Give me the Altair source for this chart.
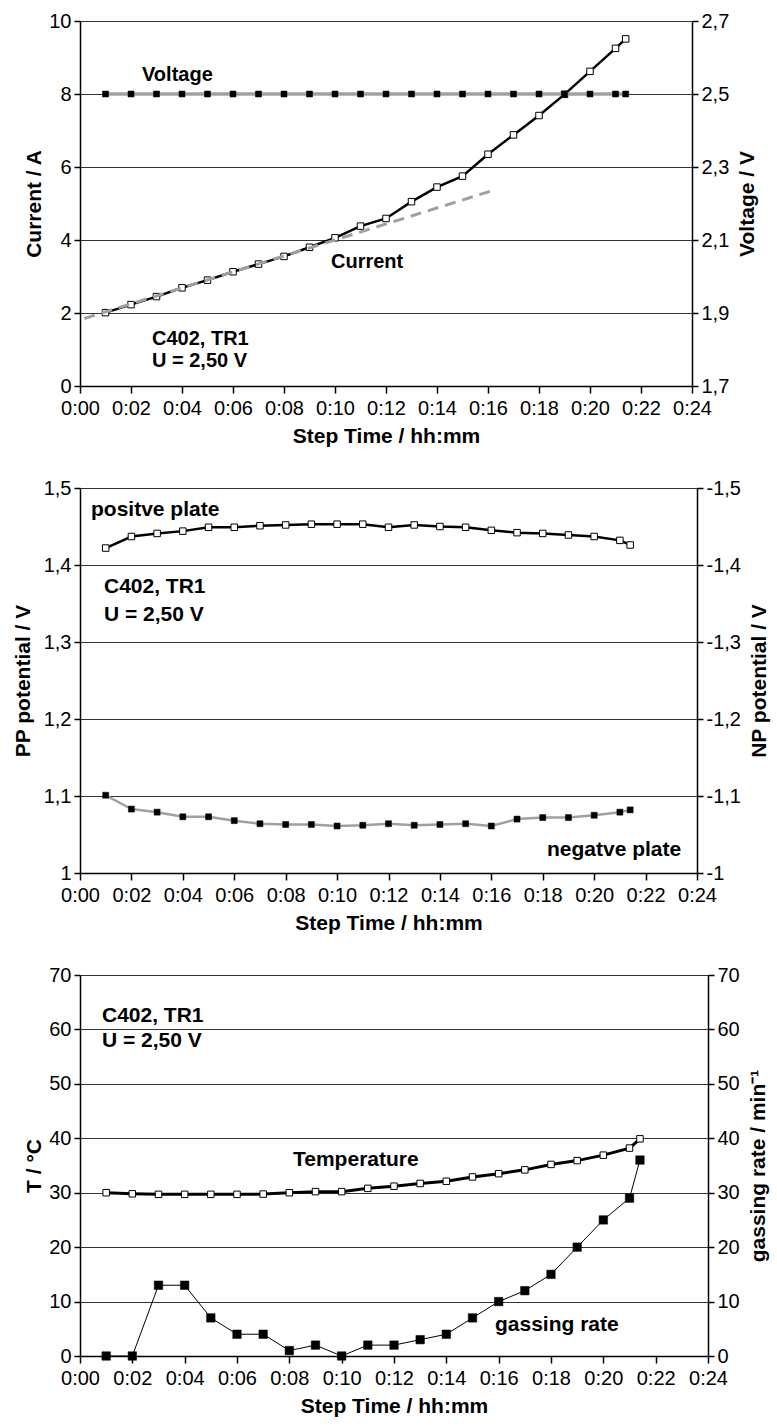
import altair as alt
import pandas as pd

FONT = "Liberation Sans"

# ---------------- data ----------------
minutes = [1, 2, 3, 4, 5, 6, 7, 8, 9, 10, 11, 12, 13, 14, 15, 16, 17, 18, 19, 20, 21, 21.4]
x_ticks = [0, 2, 4, 6, 8, 10, 12, 14, 16, 18, 20, 22, 24]

# panel 1: current and voltage
current_a = [2.01, 2.23, 2.45, 2.69, 2.90, 3.13, 3.34, 3.55, 3.80, 4.06, 4.38,
             4.59, 5.05, 5.45, 5.75, 6.35, 6.88, 7.41, 7.99, 8.62, 9.25, 9.51]
voltage_v = [2.5, 2.5, 2.5, 2.5, 2.5, 2.5, 2.5, 2.5, 2.5, 2.5, 2.5,
             2.5, 2.5, 2.5, 2.5, 2.5, 2.5, 2.5, 2.5, 2.5, 2.5, 2.5]
trend_minutes = [0.17, 16.25]
trend_current = [1.85, 5.37]
current_ticks = [0, 2, 4, 6, 8, 10]
voltage_ticks = [1.7, 1.9, 2.1, 2.3, 2.5, 2.7]

# panel 2: plate potentials
pp_v = [1.422, 1.437, 1.441, 1.444, 1.449, 1.449, 1.451, 1.452, 1.453, 1.453, 1.453,
        1.449, 1.452, 1.450, 1.449, 1.445, 1.442, 1.441, 1.439, 1.437, 1.432, 1.426]
np_v = [-1.101, -1.083, -1.079, -1.073, -1.073, -1.068, -1.064, -1.063, -1.063, -1.061, -1.062,
        -1.064, -1.062, -1.063, -1.064, -1.061, -1.070, -1.072, -1.072, -1.075, -1.079, -1.082]
pp_ticks = [1.0, 1.1, 1.2, 1.3, 1.4, 1.5]
np_ticks = [-1.5, -1.4, -1.3, -1.2, -1.1, -1.0]

# panel 3: temperature and gassing rate
temp_c = [30.0, 29.8, 29.7, 29.7, 29.7, 29.7, 29.75, 30.0, 30.2, 30.2, 30.8,
          31.2, 31.7, 32.1, 32.9, 33.5, 34.2, 35.2, 35.9, 36.9, 38.2, 39.9]
gas_rate = [0, 0, 13, 13, 7, 4, 4, 1, 2, 0, 2, 2, 3, 4, 7, 10, 12, 15, 20, 25, 29, 36]
t_ticks = [0, 10, 20, 30, 40, 50, 60, 70]

df1 = pd.DataFrame({"t": minutes, "current": current_a, "voltage": voltage_v})
df_tr = pd.DataFrame({"t": trend_minutes, "current": trend_current})
df2 = pd.DataFrame({"t": minutes, "pp": pp_v, "np": np_v})
df3 = pd.DataFrame({"t": minutes, "temp": temp_c, "gas": gas_rate})

# ---------------- helpers ----------------
COMMA = "replace('' + datum.value, '.', ',')"
COMMA1 = "replace(format(datum.value, '.1f'), '.', ',')"


def x_enc():
    return alt.X(
        "t:Q",
        scale=alt.Scale(domain=[0, 24], nice=False, zero=False),
        axis=alt.Axis(values=x_ticks, title="Step Time / hh:mm",
                      labelExpr="'0:' + (datum.value < 10 ? '0' : '') + datum.value",
                      grid=False, labelFlush=False, labelOverlap=False,
                      tickSize=7, labelPadding=5, titlePadding=7),
    )


def y_left(field, dom, ticks, title, expr=None, tpad=4):
    kw = dict(values=ticks, title=title, orient="left", grid=True,
              tickSize=6, labelPadding=3, titlePadding=tpad)
    if expr:
        kw["labelExpr"] = expr
    return alt.Y(f"{field}:Q", scale=alt.Scale(domain=dom, nice=False, zero=False),
                 axis=alt.Axis(**kw))


def y_right(field, dom, ticks, title, expr=None, reverse=False):
    kw = dict(values=ticks, title=title, orient="right", grid=False,
              tickSize=6, labelPadding=3, titlePadding=8,
              titleAngle=270, titleBaseline="top")
    if expr:
        kw["labelExpr"] = expr
    sc = dict(domain=dom, nice=False, zero=False)
    if reverse:
        sc["reverse"] = True
    return alt.Y(f"{field}:Q", scale=alt.Scale(**sc), axis=alt.Axis(**kw))


def label(text, x, y, size=21):
    return alt.Chart(alt.Data(values=[{}])).mark_text(
        text=text, font=FONT, fontSize=size, fontWeight="bold",
        align="left", baseline="middle", color="black",
    ).encode(x=alt.value(x), y=alt.value(y))


def white_sq(size=42):
    return alt.OverlayMarkDef(shape="square", size=size, filled=True,
                              fill="white", stroke="black", strokeWidth=1)


def black_sq(size=36):
    return alt.OverlayMarkDef(shape="square", size=size, filled=True,
                              fill="black", stroke="black", strokeWidth=0.5)


# ---------------- panel 1 ----------------
W1, H1 = 612, 365
cur = alt.Chart(df1).mark_line(color="black", strokeWidth=2.5, point=white_sq()).encode(
    x=x_enc(), y=y_left("current", [0, 10], current_ticks, "Current / A"))
trend = alt.Chart(df_tr).mark_line(color="#a0a0a0", strokeWidth=3, strokeDash=[11, 7]).encode(
    x=x_enc(), y=alt.Y("current:Q"))
volt = alt.Chart(df1).mark_line(color="#a0a0a0", strokeWidth=3.5, point=black_sq()).encode(
    x=x_enc(), y=y_right("voltage", [1.7, 2.7], voltage_ticks, "Voltage / V", COMMA1))

p1 = alt.layer(
    alt.layer(cur, trend), volt,
    label("Voltage", 62, 54, 20),
    label("Current", 251, 241, 20),
    label("C402, TR1", 72, 318, 20),
    label("U = 2,50 V", 72, 340, 20),
).resolve_scale(y="independent").properties(width=W1, height=H1)

# ---------------- panel 2 ----------------
W2, H2 = 617, 385
pp = alt.Chart(df2).mark_line(color="black", strokeWidth=2.5, point=white_sq()).encode(
    x=x_enc(), y=y_left("pp", [1.0, 1.5], pp_ticks, "PP potential / V", COMMA, tpad=10))
npl = alt.Chart(df2).mark_line(color="#a0a0a0", strokeWidth=2.5, point=black_sq()).encode(
    x=x_enc(), y=y_right("np", [-1.5, -1.0], np_ticks, "NP potential / V", COMMA, reverse=True))

p2 = alt.layer(
    pp, npl,
    label("positve plate", 11, 22),
    label("C402, TR1", 24, 99),
    label("U = 2,50 V", 24, 127),
    label("negatve plate", 467, 362),
).resolve_scale(y="independent").properties(width=W2, height=H2)

# ---------------- panel 3 ----------------
W3, H3 = 628, 381
temp = alt.Chart(df3).mark_line(color="black", strokeWidth=3, point=white_sq()).encode(
    x=x_enc(), y=y_left("temp", [0, 70], t_ticks, "T / °C"))
gas = alt.Chart(df3).mark_line(color="black", strokeWidth=1, point=black_sq(72)).encode(
    x=x_enc(), y=y_right("gas", [0, 70], t_ticks, "gassing rate / min⁻¹"))

p3 = alt.layer(
    temp, gas,
    label("C402, TR1", 22, 41),
    label("U = 2,50 V", 22, 66),
    label("Temperature", 213, 185),
    label("gassing rate", 415, 350),
).resolve_scale(y="independent").properties(width=W3, height=H3)

chart = alt.vconcat(p1, p2, p3, spacing=32).properties(
    padding={"left": 12, "top": 11, "right": 4, "bottom": 5},
    background="white",
).configure_view(stroke=None).configure_axis(
    labelFont=FONT, labelFontSize=20, labelColor="black",
    titleFont=FONT, titleFontSize=21, titleFontWeight="bold", titleColor="black",
    domainColor="black", domainWidth=1.5, tickColor="black", tickWidth=1.5,
    gridColor="#333333", gridWidth=1,
)

chart.save("out.html", embed_options={"renderer": "svg", "actions": False})
